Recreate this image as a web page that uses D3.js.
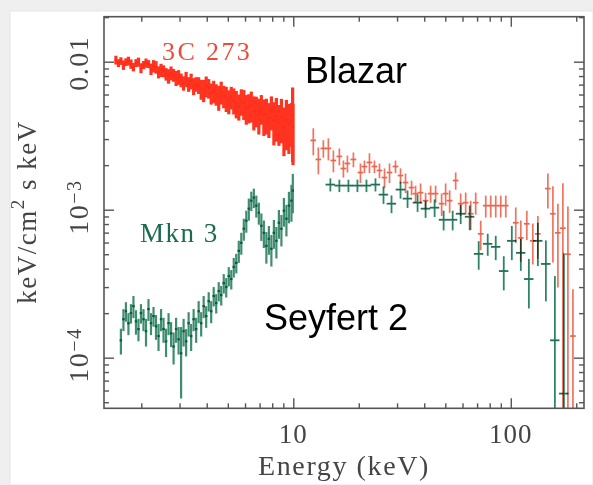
<!DOCTYPE html>
<html>
<head>
<meta charset="utf-8">
<script src="https://cdn.jsdelivr.net/npm/d3@7"></script>
<style>
  html, body { margin: 0; padding: 0; background: #efefef; }
  svg { display: block; }
  .serif { font-family: "Liberation Serif", "Times New Roman", serif; }
  .sans  { font-family: "Liberation Sans", Arial, sans-serif; }
</style>
</head>
<body>
<svg id="chart" width="593" height="485"></svg>
<script>
// ---------------------------------------------------------------------------
// Data: X-ray spectra of the blazar 3C 273 and the Seyfert 2 galaxy Mkn 3.
// Energies in keV, fluxes in keV/cm^2 s keV (scaled by the unit noted).
// ---------------------------------------------------------------------------

// Soft band (1.5-10 keV), fine channel grid
const softEnergy = [
  1.529,1.570,1.612,1.656,1.700,1.746,1.793,1.841,1.891,1.942,
  1.994,2.048,2.103,2.159,2.217,2.277,2.338,2.401,2.466,2.532,
  2.600,2.670,2.742,2.816,2.892,2.969,3.049,3.131,3.216,3.302,
  3.391,3.482,3.576,3.672,3.771,3.872,3.977,4.084,4.193,4.306,
  4.422,4.541,4.663,4.789,4.918,5.050,5.186,5.325,5.469,5.616,
  5.767,5.922,6.081,6.245,6.413,6.585,6.762,6.944,7.131,7.323,
  7.520,7.722,7.930,8.143,8.362,8.587,8.818,9.055,9.299,9.549,
  9.806,9.930,9.970
];

// 3C 273 soft band, flux x 1e-3
const blazarSoftFlux = [
  10.27,9.80,10.11,9.50,9.95,10.11,9.65,9.20,9.80,9.95,
  9.06,9.50,9.80,9.65,8.92,9.35,9.20,8.51,8.78,8.65,
  8.25,8.00,8.38,8.12,7.75,7.87,7.51,7.17,7.63,7.06,
  7.40,6.84,7.06,6.95,6.53,6.43,6.84,6.63,6.13,6.33,
  6.04,5.76,6.23,5.85,5.67,5.41,5.76,5.50,5.24,5.00,
  5.41,5.24,4.85,4.93,5.08,4.63,4.70,4.42,4.85,4.35,
  4.42,4.15,4.63,4.02,4.28,3.90,4.21,3.60,4.02,3.78,
  3.96,4.40,3.60
];
const blazarSoftErr = [
  0.7,0.6,0.6,0.7,0.6,0.7,0.7,0.6,0.6,0.7,
  0.7,0.6,0.7,0.6,0.8,0.9,0.9,0.8,0.9,0.8,
  0.8,0.9,0.9,0.8,0.9,0.9,0.8,0.8,0.9,0.8,
  0.9,0.9,0.8,0.9,1.0,1.1,1.1,1.0,1.0,1.1,
  1.0,1.1,1.1,1.0,1.1,1.0,1.0,1.1,1.1,1.0,
  1.1,1.2,1.1,1.1,1.2,1.2,1.1,1.2,1.1,1.2,
  1.2,1.1,1.2,1.3,1.4,1.2,1.4,1.3,1.5,1.4,
  1.3,2.3,1.6
];

// Mkn 3 soft band (starts at the third channel), flux x 1e-4
const seyfertSoftEnergy = softEnergy.slice(2, 71).concat([9.950]);
const seyfertSoftFlux = [
  1.31,1.82,2.06,1.71,2.00,2.23,1.76,1.56,2.00,1.82,
  1.51,2.13,1.71,1.91,1.63,1.40,1.82,1.56,1.29,1.71,
  1.46,1.19,1.56,1.33,1.07,1.51,1.29,1.71,1.40,1.82,
  1.56,2.06,1.71,2.23,1.91,2.41,2.06,2.61,2.34,2.82,
  2.65,3.19,3.00,3.56,3.40,4.10,4.37,5.27,5.97,7.43,
  8.42,10.16,11.51,12.06,10.65,9.54,7.79,6.98,5.69,6.36,
  5.44,6.98,6.16,8.16,7.43,9.84,8.69,10.65,11.51,
  13.46
];
const seyfertSoftErr = [
  0.26,0.31,0.31,0.29,0.30,0.38,0.33,0.27,0.30,0.31,
  0.32,0.36,0.29,0.29,0.31,0.29,0.31,0.30,0.28,0.29,
  0.28,0.29,0.30,0.28,0.54,0.32,0.27,0.32,0.29,0.31,
  0.30,0.35,0.32,0.38,0.32,0.36,0.35,0.39,0.35,0.42,
  0.40,0.48,0.45,0.53,0.51,0.62,0.66,0.90,1.01,1.26,
  1.43,1.73,1.73,1.81,1.81,1.62,1.64,1.47,1.37,1.40,
  1.31,1.54,1.48,1.80,1.78,2.16,2.09,2.56,3.22,
  4.00
];

// 3C 273 hard band (12-200 keV), flux x 1e-3
const blazarHardEnergy = [
  12.36,13.04,13.75,14.50,15.29,16.29,17.00,17.74,18.90,20.36,
  21.24,22.40,23.62,24.91,26.27,27.70,29.51,31.12,32.82,34.98,
  36.49,38.47,40.58,42.80,45.12,48.09,50.17,52.35,55.80,58.84,
  62.03,65.42,68.99,72.74,76.71,80.88,85.28,89.93,94.84,105.4,
  111.2,118.5,126.3,133.2,148.1,156.2,164.7,173.6,183.1,193.1
];
const blazarHardFlux = [
  2.94,2.185,2.595,2.595,2.151,2.29,1.898,2.052,2.185,1.783,
  1.958,2.085,1.958,1.84,1.649,1.783,1.958,1.702,1.525,1.411,
  1.284,1.304,1.151,1.284,1.284,1.098,1.284,1.151,1.574,1.098,
  1.116,0.939,1.116,0.687,1.065,1.065,1.065,1.065,1.065,0.816,
  0.645,0.803,0.616,0.687,1.389,0.939,0.698,0.75,0.50,0.14
];
const blazarHardErr = [
  0.61,0.45,0.35,0.44,0.36,0.30,0.25,0.27,0.25,0.27,
  0.19,0.32,0.19,0.21,0.25,0.27,0.19,0.20,0.23,0.16,
  0.17,0.20,0.15,0.17,0.17,0.19,0.22,0.20,0.21,0.19,
  0.19,0.21,0.19,0.155,0.18,0.18,0.18,0.18,0.18,0.22,
  0.20,0.18,0.19,0.22,0.37,0.50,0.40,0.76,0.55,0.15
];

// Mkn 3 hard band, flux x 1e-3
const seyfertHardEnergy = [
  14.81,16.29,17.93,19.72,21.70,23.87,25.99,28.29,31.12,33.52,
  37.28,40.58,44.65,49.12,54.05,58.84,64.73,71.20,78.34,85.28,
  92.84,101.1,111.2,121.1,133.2,145.0,159.5,175.5
];
const seyfertHardFlux = [
  1.478,1.455,1.455,1.455,1.455,1.478,1.264,1.098,1.367,1.188,
  1.116,1.016,1.032,0.855,0.855,0.939,0.896,0.503,0.588,0.561,
  0.385,0.616,0.511,0.340,0.616,0.430,0.131,0.0572
];
const seyfertHardErr = [
  0.15,0.14,0.14,0.14,0.14,0.15,0.17,0.15,0.18,0.16,
  0.15,0.135,0.14,0.13,0.13,0.14,0.17,0.11,0.10,0.105,
  0.10,0.16,0.125,0.125,0.20,0.19,0.225,0.45
];

// Axis ticks
const xMajorTicks = [10, 100];
const xMinorTicks = [2,3,4,5,6,7,8,9,20,30,40,50,60,70,80,90,200];
const yMajorTicks = [1e-4, 1e-3, 1e-2];
const yMinorTicks = [5e-5,6e-5,7e-5,8e-5,9e-5,
                     2e-4,3e-4,4e-4,5e-4,6e-4,7e-4,8e-4,9e-4,
                     2e-3,3e-3,4e-3,5e-3,6e-3,7e-3,8e-3,9e-3,2e-2];
const xTickLabels = ["10", "100"];

// ---------------------------------------------------------------------------
const W = 593, H = 485;
const frame = { left: 104, right: 584, top: 16.7, bottom: 408.3 };
const xDomain = [1.348, 217.1];
const yDomain = [4.55e-5, 0.02014];

const svg = d3.select("#chart");

// white card on the grey page
svg.append("rect")
  .attr("x", 10).attr("y", 11).attr("width", W - 10).attr("height", H - 11)
  .attr("fill", "#ffffff").attr("stroke", "#e6e6e6").attr("stroke-width", 1);

const x = d3.scaleLog().domain(xDomain).range([frame.left, frame.right]);
const y = d3.scaleLog().domain(yDomain).range([frame.bottom, frame.top]);

svg.append("clipPath").attr("id", "plotClip")
  .append("rect")
  .attr("x", frame.left).attr("y", frame.top)
  .attr("width", frame.right - frame.left)
  .attr("height", frame.bottom - frame.top);

const plot = svg.append("g").attr("clip-path", "url(#plotClip)");

// Error-bar crosses: vertical = flux error, horizontal = energy bin
function crosses(parent, energy, flux, err, unit, binFrac, barColor, binColor, barWidth, binWidth) {
  const pts = energy.map((e, i) => ({ e, f: flux[i] * unit, s: err[i] * unit }));
  const g = parent.append("g").style("mix-blend-mode", "multiply");
  g.selectAll("line.bar").data(pts).join("line")
    .attr("class", "bar")
    .attr("x1", d => x(d.e)).attr("x2", d => x(d.e))
    .attr("y1", d => y(d.f + d.s))
    .attr("y2", d => (d.f - d.s) > yDomain[0] ? y(d.f - d.s) : frame.bottom + 10)
    .attr("stroke", barColor).attr("stroke-width", barWidth);
  g.selectAll("line.bin").data(pts).join("line")
    .attr("class", "bin")
    .attr("x1", d => x(d.e * (1 - binFrac))).attr("x2", d => x(d.e * (1 + binFrac)))
    .attr("y1", d => y(d.f)).attr("y2", d => y(d.f))
    .attr("stroke", binColor).attr("stroke-width", binWidth);
}

// 3C 273 soft band: channels packed tightly enough to read as a band
crosses(plot, softEnergy, blazarSoftFlux, blazarSoftErr, 1e-3, 0.013,
        "#ff3420", "#ff2a18", 3.2, 1.6);
// Mkn 3 soft band
crosses(plot, seyfertSoftEnergy, seyfertSoftFlux, seyfertSoftErr, 1e-4, 0.013,
        "#3f8c70", "#0b5a3a", 2.2, 2.2);
// Hard band crosses
crosses(plot, blazarHardEnergy, blazarHardFlux, blazarHardErr, 1e-3, 0.03,
        "#f0735f", "#ea6450", 1.7, 1.7);
crosses(plot, seyfertHardEnergy, seyfertHardFlux, seyfertHardErr, 1e-3, 0.05,
        "#2f8466", "#236f55", 1.8, 1.8);

// ---------------------------------------------------------------------------
// Axes: ticks point inward on all four sides
const axisColor = "#555555";
function ticks(axisGen, transform, values, size) {
  const g = svg.append("g").attr("transform", transform)
    .call(axisGen.tickValues(values).tickSize(-size).tickFormat(""));
  g.select(".domain").remove();
  g.selectAll("line").attr("stroke", axisColor).attr("stroke-width", 1.4);
}
ticks(d3.axisBottom(x), `translate(0,${frame.bottom})`, xMajorTicks, 10);
ticks(d3.axisBottom(x), `translate(0,${frame.bottom})`, xMinorTicks, 5);
ticks(d3.axisTop(x),    `translate(0,${frame.top})`,    xMajorTicks, 10);
ticks(d3.axisTop(x),    `translate(0,${frame.top})`,    xMinorTicks, 5);
ticks(d3.axisLeft(y),   `translate(${frame.left},0)`,   yMajorTicks, 10);
ticks(d3.axisLeft(y),   `translate(${frame.left},0)`,   yMinorTicks, 5);
ticks(d3.axisRight(y),  `translate(${frame.right},0)`,  yMajorTicks, 10);
ticks(d3.axisRight(y),  `translate(${frame.right},0)`,  yMinorTicks, 5);

svg.append("rect")
  .attr("x", frame.left).attr("y", frame.top)
  .attr("width", frame.right - frame.left).attr("height", frame.bottom - frame.top)
  .attr("fill", "none").attr("stroke", axisColor).attr("stroke-width", 1.6);

// Tick labels
const labelColor = "#454545";
svg.append("g").selectAll("text").data(xMajorTicks).join("text")
  .attr("class", "serif")
  .attr("x", d => x(d)).attr("y", 443)
  .attr("text-anchor", "middle")
  .attr("font-size", 27).attr("letter-spacing", 1)
  .attr("fill", labelColor)
  .text((d, i) => xTickLabels[i]);

// y labels, rotated to read bottom-to-top
function yLabel(value, base, exp, offset) {
  const t = svg.append("text").attr("class", "serif")
    .attr("transform", `translate(88,${y(value) + offset}) rotate(-90)`)
    .attr("font-size", 28).attr("letter-spacing", 1.5)
    .attr("fill", labelColor);
  t.append("tspan").text(base);
  if (exp) t.append("tspan").attr("dy", -7).attr("font-size", 20).text(exp);
}
yLabel(1e-2, "0.01", null, 29);
yLabel(1e-3, "10", "\u22123", 25);
yLabel(1e-4, "10", "\u22124", 25);

// Axis titles
svg.append("text").attr("class", "serif")
  .attr("x", 344).attr("y", 475).attr("text-anchor", "middle")
  .attr("font-size", 28).attr("letter-spacing", 1.6)
  .attr("fill", labelColor)
  .text("Energy (keV)");

const yTitle = svg.append("text").attr("class", "serif")
  .attr("transform", "translate(36,212) rotate(-90)")
  .attr("text-anchor", "middle")
  .attr("font-size", 27).attr("letter-spacing", 1.5)
  .attr("fill", labelColor);
yTitle.append("tspan").text("keV/cm");
yTitle.append("tspan").attr("dy", -12).attr("font-size", 19).text("2");
yTitle.append("tspan").attr("dy", 12).text(" s keV");

// Source names
svg.append("text").attr("class", "serif")
  .attr("x", 162).attr("y", 60)
  .attr("font-size", 26).attr("letter-spacing", 2.4)
  .attr("fill", "#ee4a3a")
  .text("3C 273");
svg.append("text").attr("class", "serif")
  .attr("x", 140).attr("y", 242)
  .attr("font-size", 27).attr("letter-spacing", 1.5)
  .attr("fill", "#1d6b4f")
  .text("Mkn 3");

// Class annotations
svg.append("text").attr("class", "sans")
  .attr("x", 305).attr("y", 83)
  .attr("font-size", 36).attr("fill", "#000")
  .text("Blazar");
svg.append("text").attr("class", "sans")
  .attr("x", 264).attr("y", 330)
  .attr("font-size", 36).attr("fill", "#000")
  .text("Seyfert 2");
</script>
</body>
</html>
